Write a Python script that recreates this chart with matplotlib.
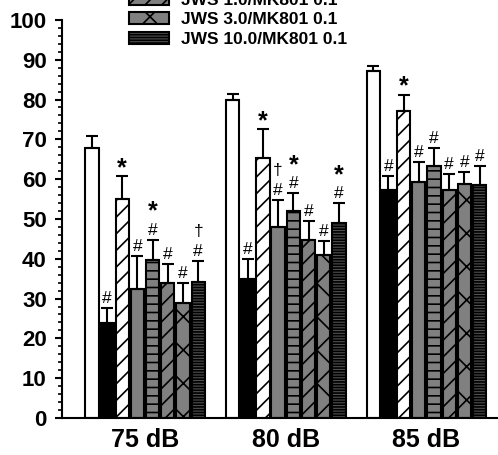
import matplotlib
matplotlib.use("Agg")
import matplotlib.pyplot as plt
import numpy as np
from matplotlib.ticker import MultipleLocator

plt.rcParams['font.family'] = ['Liberation Sans', 'DejaVu Sans']
plt.rcParams['font.weight'] = 'bold'
plt.rcParams['hatch.linewidth'] = 1.2

groups = ["75 dB", "80 dB", "85 dB"]
series_labels = ["Control", "MK801 0.1", "JWS 0.1/MK801 0.1", "JWS 0.3/MK801 0.1",
                 "JWS 0.5/MK801 0.1", "JWS 1.0/MK801 0.1", "JWS 3.0/MK801 0.1",
                 "JWS 10.0/MK801 0.1"]
# values per series: [75 dB, 80 dB, 85 dB]
means = [
    [67.8, 79.8, 87.2],
    [23.8, 35.0, 57.2],
    [55.0, 65.4, 77.2],
    [32.3, 48.0, 59.4],
    [39.8, 52.0, 63.3],
    [33.8, 44.8, 57.2],
    [29.0, 41.0, 58.8],
    [34.2, 48.9, 58.5],
]
sems = [
    [3.0, 1.5, 1.1],
    [3.8, 5.0, 3.6],
    [5.7, 7.2, 4.0],
    [8.3, 6.8, 4.8],
    [5.0, 4.5, 4.5],
    [4.8, 4.7, 4.2],
    [5.0, 3.4, 3.0],
    [5.2, 5.0, 4.8],
]
marks = [
    ["", "", ""],
    ["#", "#", "#"],
    ["*", "*", "*"],
    ["#", "#†", "#"],
    ["#*", "#*", "#"],
    ["#", "#", "#"],
    ["#", "#", "#"],
    ["#†", "#*", "#"],
]
colors = ["white", "black", "white", "#808080", "#808080", "#808080", "#808080", "#505050"]
hatches = [None, None, "//", None, "--", "//", "x", "------"]

fig = plt.figure(figsize=(4.98, 4.55), dpi=100)
ax = fig.add_axes([0.1245, 0.0813, 0.873, 0.875])

x = np.arange(len(groups))
slot = 0.108
width = 0.095
n = len(means)
handles = []
for i in range(n):
    pos = x + (i - (n - 1) / 2) * slot
    b = ax.bar(pos, means[i], width, color=colors[i], edgecolor="black",
               linewidth=1.5, hatch=hatches[i], label=series_labels[i], zorder=2)
    handles.append(b)
    ax.errorbar(pos, means[i], yerr=[np.zeros(3), sems[i]], fmt="none",
                ecolor="black", elinewidth=1.5, capsize=4, capthick=1.5, zorder=3)
    for j in range(3):
        top = means[i][j] + sems[i][j] + 0.5
        for k, m in enumerate(marks[i][j]):
            if m == "*":
                ax.text(pos[j], top - 1.5, m, ha="center", va="bottom", fontsize=18, fontweight="bold")
                top += 6
            else:
                ax.text(pos[j], top, m, ha="center", va="bottom", fontsize=12.5, fontweight="normal")
                top += 5.0

ax.set_xlim(-0.59, 2.5)
ax.set_ylim(0, 100)
ax.yaxis.set_major_locator(MultipleLocator(10))
ax.yaxis.set_minor_locator(MultipleLocator(2))
ax.set_xticks(x)
ax.set_xticklabels(groups, fontsize=18, fontweight="bold")
ax.tick_params(axis="x", length=0, pad=7)
ax.tick_params(axis="y", which="major", length=5, width=1.5, labelsize=16, direction="out", pad=6)
ax.tick_params(axis="y", which="minor", length=3, width=1.2, direction="out")
for lbl in ax.get_yticklabels():
    lbl.set_fontweight("bold")
ax.spines["top"].set_visible(False)
ax.spines["right"].set_visible(False)
ax.spines["left"].set_linewidth(1.5)
ax.spines["bottom"].set_linewidth(1.5)

leg = fig.legend(handles=handles[5:], labels=series_labels[5:], loc="upper left",
                 bbox_to_anchor=(0.242, 1.035), frameon=False,
                 prop={"weight": "bold", "size": 12.5}, handlelength=2.3, handleheight=0.7,
                 labelspacing=0.25, borderpad=0, handletextpad=0.7)

fig.savefig("out.png", dpi=100)
